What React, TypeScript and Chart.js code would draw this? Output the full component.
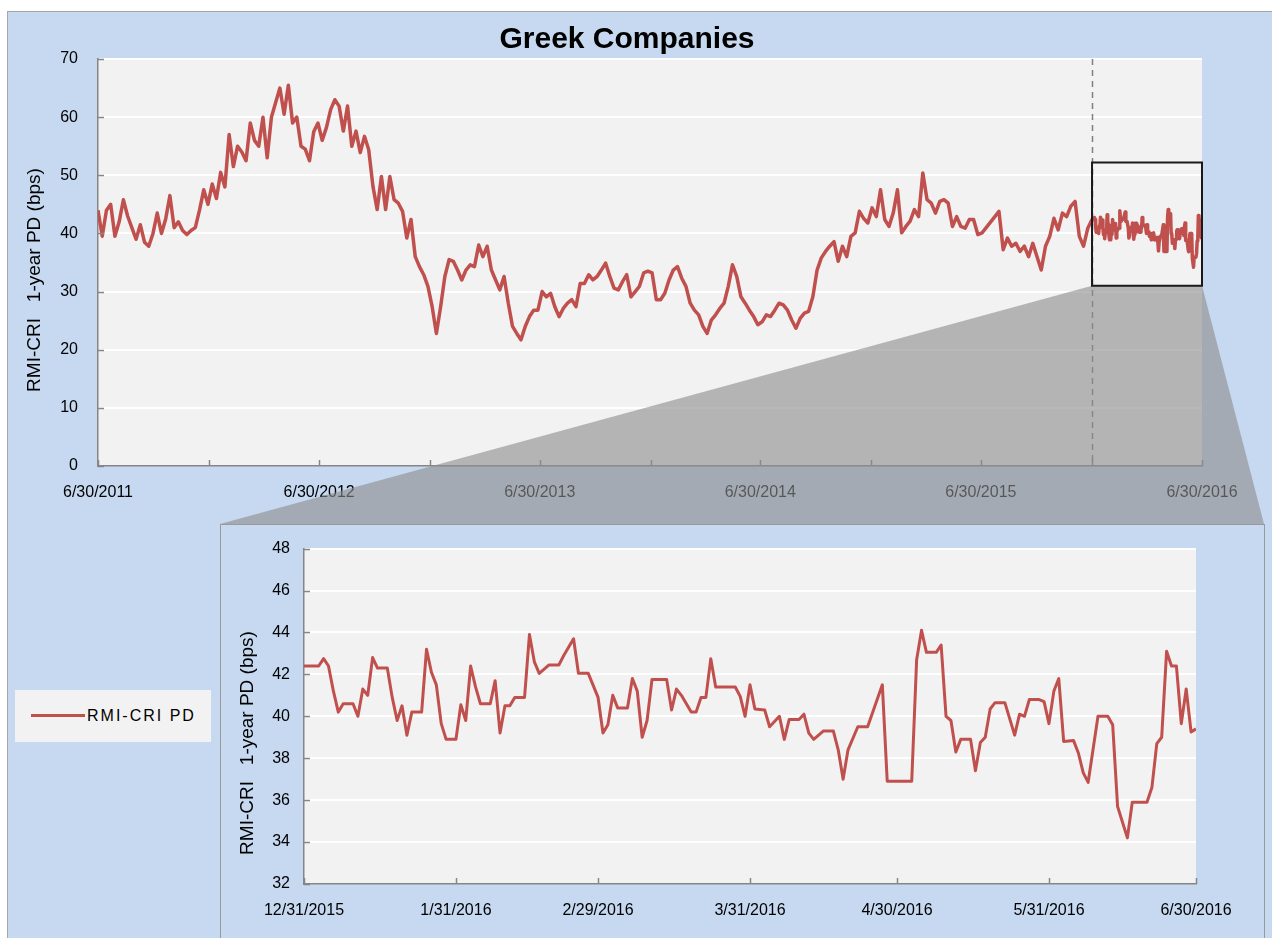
import React, { useEffect, useRef } from "react";
import { Chart, registerables } from "chart.js";

Chart.register(...registerables);

// ---------------- DATA ----------------
const chartTitle = "Greek Companies";
const yAxisTitle = "RMI-CRI   1-year PD (bps)";
const seriesName = "RMI-CRI PD";

// weekly observations starting on this date (one value every 7 days)
const seriesStart = "6/30/2011";
const topWeeklyValues: (number | null)[] = [
  44, 39.5, 44, 45, 39.5, 42, 45.8, 43, 41, 39,
  41.5, 38.5, 37.8, 40, 43.5, 40, 42.5, 46.5, 41, 42,
  40.5, 39.8, 40.5, 41, 44, 47.5, 45, 48.5, 46, 50.5,
  48, 57, 51.5, 55, 54, 52.5, 59, 56, 55, 60,
  53, 60, 62.5, 65, 60.5, 65.5, 59, 60, 55, 54.5,
  52.5, 57.5, 59, 56, 58.2, 61.3, 63, 61.9, 57.6, 61.9,
  55, 57.6, 53.9, 56.7, 54.4, 48.1, 44.1, 49.8, 44.1, 49.8,
  45.8, 45.2, 43.8, 39.2, 42.4, 36, 34.3, 32.9, 30.9, 27.4,
  22.8, 27.4, 32.6, 35.5, 35.2, 33.7, 32, 33.7, 34.6, 34.3,
  38, 36, 37.8, 33.7, 32, 30.3, 32.6, 28, 24, 22.8,
  21.7, 24, 25.7, 26.8, 26.8, 30, 29.1, 29.7, 27.4, 25.7,
  27.1, 28, 28.6, 27.4, 31.4, 31.4, 32.9, 32, 32.6, 33.7,
  34.9, 32.6, 30.6, 30.3, 31.7, 32.9, 29.1, 30, 30.9, 33.2,
  33.5, 33.2, 28.6, 28.6, 29.7, 32, 33.7, 34.3, 32.3, 30.9,
  28, 26.8, 26, 24, 22.8, 25.1, 26, 27.1, 28, 30.9,
  34.6, 32.6, 29.1, 28, 26.8, 25.7, 24.3, 24.8, 26, 25.7,
  26.8, 28, 27.7, 26.8, 25.1, 23.7, 25.4, 26.3, 26.6, 29.1,
  33.7, 35.8, 36.9, 37.8, 38.6, 35.2, 37.8, 36, 39.5, 40.1,
  43.8, 42.6, 41.8, 44.4, 42.9, 47.5, 42.4, 41.2, 43.5, 47.5,
  40.1, 41.2, 42.1, 44.1, 42.9, 50.4, 45.8, 45.2, 43.5, 45.5,
  45.8, 45.2, 41.2, 42.9, 41.2, 40.9, 42.4, 42.4, 39.8, 40.1,
  null, null, null, 43.8, 37.2, 39.2, 37.8, 38.3, 36.9, 37.8,
  36, 38.3, 36, 33.7, 37.8, 39.5, 42.6, 40.6, 43.5, 42.9,
  44.7, 45.5, 39.5, 37.8, 40.9,
];

// zoomed window (daily observations, days after insetStart)
const insetStart = "12/31/2015";
const insetEnd = "6/30/2016";
const insetDayOffsets = [
  0, 3, 4, 5, 6, 7, 8, 10, 11, 12,
  13, 14, 15, 17, 18, 19, 20, 21, 22, 24,
  25, 26, 27, 28, 29, 31, 32, 33, 34, 35,
  36, 38, 39, 40, 41, 42, 43, 45, 46, 47,
  48, 50, 52, 53, 55, 56, 58, 60, 61, 62,
  63, 64, 66, 67, 68, 69, 70, 71, 74, 75,
  76, 77, 79, 80, 81, 82, 83, 84, 88, 89,
  90, 91, 92, 94, 95, 97, 98, 99, 101, 102,
  103, 104, 106, 108, 109, 110, 111, 113, 115, 118,
  119, 124, 125, 126, 127, 129, 130, 131, 132, 133,
  134, 136, 137, 138, 139, 140, 141, 143, 145, 146,
  147, 148, 150, 151, 152, 153, 154, 155, 157, 158,
  159, 160, 162, 164, 165, 166, 168, 169, 172, 173,
  174, 175, 176, 177, 178, 179, 180, 181, 182,
];
const insetValues = [
  42.4, 42.4, 42.75, 42.4, 41.2, 40.2, 40.6, 40.6, 40.0, 41.3,
  41.0, 42.8, 42.3, 42.3, 40.9, 39.8, 40.5, 39.1, 40.2, 40.2,
  43.2, 42.1, 41.5, 39.65, 38.9, 38.9, 40.55, 39.8, 42.4, 41.4,
  40.6, 40.6, 41.7, 39.2, 40.5, 40.5, 40.9, 40.9, 43.9, 42.6,
  42.05, 42.45, 42.45, 42.9, 43.7, 42.05, 42.05, 40.9, 39.2, 39.6,
  41.0, 40.4, 40.4, 41.8, 41.2, 39.0, 39.8, 41.75, 41.75, 40.3,
  41.3, 41.0, 40.2, 40.2, 40.9, 40.9, 42.75, 41.4, 41.4, 40.95,
  40.0, 41.5, 40.35, 40.3, 39.5, 40.0, 38.9, 39.85, 39.85, 40.1,
  39.2, 38.9, 39.3, 39.3, 38.4, 37.0, 38.4, 39.5, 39.5, 41.5,
  36.9, 36.9, 42.7, 44.1, 43.05, 43.05, 43.4, 40.0, 39.8, 38.3,
  38.9, 38.9, 37.4, 38.75, 39.0, 40.35, 40.65, 40.65, 39.1, 40.1,
  40.0, 40.8, 40.8, 40.7, 39.65, 41.2, 41.8, 38.8, 38.85, 38.25,
  37.3, 36.85, 40.0, 40.0, 39.6, 35.7, 34.2, 35.9, 35.9, 36.6,
  38.7, 39.0, 43.1, 42.4, 42.4, 39.65, 41.3, 39.25, 39.4,
];

const topTickDates = [
  "6/30/2011", "12/31/2011", "6/30/2012", "12/31/2012", "6/30/2013", "12/31/2013",
  "6/30/2014", "12/31/2014", "6/30/2015", "12/31/2015", "6/30/2016",
];
const topLabelledDates = ["6/30/2011", "6/30/2012", "6/30/2013", "6/30/2014", "6/30/2015", "6/30/2016"];
const topYMin = 0;
const topYMax = 70;
const topYStep = 10;

const insetTickDates = ["12/31/2015", "1/31/2016", "2/29/2016", "3/31/2016", "4/30/2016", "5/31/2016", "6/30/2016"];
const insetYMin = 32;
const insetYMax = 48;
const insetYStep = 2;

// zoom rectangle drawn on the main chart (value range)
const zoomLow = 31;
const zoomHigh = 52.2;

// ---------------- HELPERS ----------------
const FONT = 'Arial, "Liberation Sans", sans-serif';
const LINE = "#c0504d";
const AXIS = "#868686";
const DAY = 86400000;
const parseDate = (s: string) => {
  const [m, d, y] = s.split("/").map(Number);
  return Date.UTC(y, m - 1, d);
};
const ORIGIN = parseDate(seriesStart);
const dayOf = (s: string) => Math.round((parseDate(s) - ORIGIN) / DAY);
const labelMap = (list: string[]) => {
  const m: Record<number, string> = {};
  list.forEach((s) => (m[dayOf(s)] = s));
  return m;
};

const insetStartDay = dayOf(insetStart);
const topPoints = [
  ...topWeeklyValues.map((v, k) => ({ x: k * 7, y: v })),
  ...insetDayOffsets.map((d, i) => ({ x: insetStartDay + d, y: insetValues[i] })),
];
const insetPoints = insetDayOffsets.map((d, i) => ({ x: insetStartDay + d, y: insetValues[i] }));

const plotBg = {
  id: "plotBg",
  beforeDraw(chart: any) {
    const { ctx, chartArea: a } = chart;
    ctx.save();
    ctx.fillStyle = "#f2f2f2";
    ctx.fillRect(a.left, a.top, a.right - a.left, a.bottom - a.top);
    ctx.restore();
  },
};

const innerTicks = {
  id: "innerTicks",
  afterDraw(chart: any) {
    const { ctx, chartArea: a, scales } = chart;
    ctx.save();
    ctx.strokeStyle = AXIS;
    ctx.lineWidth = 1.5;
    ctx.beginPath();
    for (const t of scales.y.ticks) {
      const y = Math.round(scales.y.getPixelForValue(t.value)) + 0.5;
      ctx.moveTo(a.left, y);
      ctx.lineTo(a.left + 6, y);
    }
    for (const t of scales.x.ticks) {
      const x = Math.round(scales.x.getPixelForValue(t.value)) + 0.5;
      ctx.moveTo(x, a.bottom);
      ctx.lineTo(x, a.bottom - 6);
    }
    ctx.stroke();
    ctx.restore();
  },
};

const axisTitle = (cx: number, cy: number) => ({
  id: "axisTitle",
  afterDraw(chart: any) {
    const ctx = chart.ctx;
    ctx.save();
    ctx.translate(cx, cy);
    ctx.rotate(-Math.PI / 2);
    ctx.font = `19px ${FONT}`;
    ctx.fillStyle = "#000";
    ctx.textAlign = "center";
    ctx.textBaseline = "middle";
    ctx.fillText(yAxisTitle, 0, 0);
    ctx.restore();
  },
});

// layout of the page (pixels)
const FRAME_L = 7;
const FRAME_T = 11;
const TOP_W = 1265;
const TOP_H = 513;
const INSET_L = 220;
const INSET_T = 524;
const INSET_R = 1264;

const zoomOverlay = {
  id: "zoomOverlay",
  afterDraw(chart: any) {
    const { ctx, chartArea: a, scales } = chart;
    const x0 = scales.x.getPixelForValue(dayOf(insetStart));
    const x1 = scales.x.getPixelForValue(dayOf(insetEnd));
    const yTop = scales.y.getPixelForValue(zoomHigh);
    const yBot = scales.y.getPixelForValue(zoomLow);
    ctx.save();
    // dashed marker
    ctx.strokeStyle = "#7f7f7f";
    ctx.lineWidth = 1.5;
    ctx.setLineDash([6, 5]);
    ctx.beginPath();
    ctx.moveTo(Math.round(x0) + 0.5, a.top);
    ctx.lineTo(Math.round(x0) + 0.5, a.bottom);
    ctx.stroke();
    ctx.setLineDash([]);
    // connector
    ctx.fillStyle = "rgba(140,140,140,0.61)";
    ctx.beginPath();
    ctx.moveTo(x0, yBot);
    ctx.lineTo(x1, yBot);
    ctx.lineTo(INSET_R - FRAME_L, TOP_H);
    ctx.lineTo(INSET_L - FRAME_L, TOP_H);
    ctx.closePath();
    ctx.fill();
    // zoom rectangle
    ctx.strokeStyle = "#1a1a1a";
    ctx.lineWidth = 2;
    ctx.strokeRect(x0, yTop, x1 - x0, yBot - yTop);
    // title
    ctx.font = `bold 30px ${FONT}`;
    ctx.fillStyle = "#000";
    ctx.textAlign = "center";
    ctx.textBaseline = "middle";
    ctx.fillText(chartTitle, 627 - FRAME_L, 40 - FRAME_T);
    ctx.restore();
  },
};

const tickFont = { family: FONT, size: 16 };

function makeConfig(opts: {
  points: any[];
  xMin: number;
  xMax: number;
  tickDates: string[];
  labelled: string[];
  yMin: number;
  yMax: number;
  yStep: number;
  yWidth: number;
  xHeight: number;
  padTop: number;
  padRight: number;
  yPad: number;
  lineWidth: number;
  plugins: any[];
}): any {
  const labels = labelMap(opts.labelled);
  return {
    type: "line",
    data: {
      datasets: [
        {
          label: seriesName,
          data: opts.points,
          borderColor: LINE,
          backgroundColor: LINE,
          borderWidth: opts.lineWidth,
          pointRadius: 0,
          tension: 0,
          spanGaps: true,
          borderJoinStyle: "round",
        },
      ],
    },
    options: {
      animation: false,
      responsive: false,
      devicePixelRatio: 1,
      layout: { padding: { left: 0, top: opts.padTop, right: opts.padRight, bottom: 0 } },
      plugins: { legend: { display: false }, tooltip: { enabled: false }, title: { display: false } },
      scales: {
        x: {
          type: "linear",
          min: opts.xMin,
          max: opts.xMax,
          afterBuildTicks: (s: any) => {
            s.ticks = opts.tickDates.map((d) => ({ value: dayOf(d) }));
          },
          afterFit: (s: any) => {
            s.height = opts.xHeight;
          },
          ticks: {
            autoSkip: false,
            maxRotation: 0,
            minRotation: 0,
            padding: 17,
            color: "#000",
            font: tickFont,
            callback: (v: number) => labels[Math.round(v)] ?? "",
          },
          grid: { display: false, drawTicks: false },
          border: { display: true, color: AXIS, width: 1.5 },
        },
        y: {
          min: opts.yMin,
          max: opts.yMax,
          ticks: { stepSize: opts.yStep, padding: opts.yPad, color: "#000", font: tickFont },
          afterFit: (s: any) => {
            s.width = opts.yWidth;
          },
          grid: {
            drawTicks: false,
            lineWidth: 2,
            color: (c: any) => (c.tick && c.tick.value === opts.yMin ? "rgba(0,0,0,0)" : "#ffffff"),
          },
          border: { display: true, color: AXIS, width: 1.5 },
        },
      },
    },
    plugins: [plotBg, ...opts.plugins],
  };
}

export default function App() {
  const topRef = useRef<HTMLCanvasElement>(null);
  const insetRef = useRef<HTMLCanvasElement>(null);

  useEffect(() => {
    const top = new Chart(
      topRef.current as HTMLCanvasElement,
      makeConfig({
        points: topPoints,
        xMin: dayOf(seriesStart),
        xMax: dayOf(insetEnd),
        tickDates: topTickDates,
        labelled: topLabelledDates,
        yMin: topYMin,
        yMax: topYMax,
        yStep: topYStep,
        yWidth: 91,
        xHeight: 58,
        padTop: 48,
        padRight: 70,
        yPad: 20,
        lineWidth: 3.5,
        plugins: [innerTicks, axisTitle(35 - FRAME_L, 280 - FRAME_T), zoomOverlay],
      })
    );
    const inset = new Chart(
      insetRef.current as HTMLCanvasElement,
      makeConfig({
        points: insetPoints,
        xMin: dayOf(insetStart),
        xMax: dayOf(insetEnd),
        tickDates: insetTickDates,
        labelled: insetTickDates,
        yMin: insetYMin,
        yMax: insetYMax,
        yStep: insetYStep,
        yWidth: 83,
        xHeight: 54,
        padTop: 16,
        padRight: 67,
        yPad: 14,
        lineWidth: 3,
        plugins: [innerTicks, axisTitle(248 - 221, 743 - 525)],
      })
    );
    return () => {
      top.destroy();
      inset.destroy();
    };
  }, []);

  return (
    <div
      style={{
        position: "absolute",
        left: 0,
        top: 0,
        width: 1272,
        height: 938,
        background: "#ffffff",
        overflow: "hidden",
        fontFamily: FONT,
      }}
    >
      <div
        style={{
          position: "absolute",
          left: FRAME_L,
          top: FRAME_T,
          width: 1272 - FRAME_L,
          height: 938 - FRAME_T,
          background: "#c6d9f0",
          borderTop: "1px solid #a6a6a6",
          borderLeft: "1px solid #a6a6a6",
          boxSizing: "border-box",
        }}
      />
      <canvas
        ref={topRef}
        width={TOP_W}
        height={TOP_H}
        style={{ position: "absolute", left: FRAME_L, top: FRAME_T, width: TOP_W, height: TOP_H }}
      />
      <div
        style={{
          position: "absolute",
          left: INSET_L,
          top: INSET_T,
          width: INSET_R - INSET_L + 1,
          height: 430,
          background: "#c6d9f0",
          border: "1px solid #9a9a9a",
          boxSizing: "border-box",
        }}
      />
      <canvas
        ref={insetRef}
        width={1042}
        height={413}
        style={{ position: "absolute", left: 221, top: 525, width: 1042, height: 413 }}
      />
      <div
        style={{
          position: "absolute",
          left: 15,
          top: 690,
          width: 196,
          height: 52,
          background: "#f2f2f2",
        }}
      >
        <div style={{ position: "absolute", left: 16, top: 24, width: 54, height: 3, background: LINE }} />
        <div
          style={{
            position: "absolute",
            left: 72,
            top: 0,
            height: 52,
            lineHeight: "52px",
            fontSize: 16,
            letterSpacing: "2px",
            color: "#000",
            whiteSpace: "nowrap",
          }}
        >
          {seriesName}
        </div>
      </div>
    </div>
  );
}
